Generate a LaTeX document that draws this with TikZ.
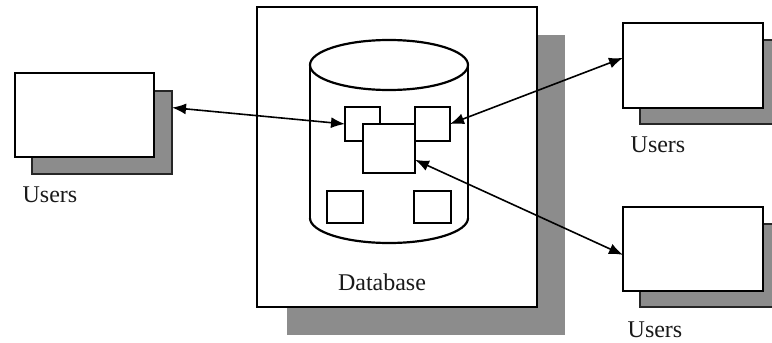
\documentclass[tikz,border=0pt]{standalone}
\usepackage{fontspec}
\setmainfont{Liberation Serif}
\usetikzlibrary{arrows.meta,calc}
\definecolor{shade}{HTML}{8C8C8C}
\begin{document}
\begin{tikzpicture}[x=1pt,y=-1pt,
  box/.style={draw=black,line width=2.4pt,fill=white,anchor=north west,inner sep=0pt,outer sep=0pt},
  shadowbox/.style={draw=black!85,line width=2pt,fill=shade,anchor=north west,inner sep=0pt,outer sep=0pt},
  item/.style={draw=black,line width=2.2pt,fill=white,anchor=north west,inner sep=0pt,outer sep=0pt},
  link/.style={line width=1.6pt,{Latex[length=14pt,width=11pt]}-{Latex[length=14pt,width=11pt]}},
  lbl/.style={font=\fontsize{24}{27}\selectfont,text=black!90}]
\useasboundingbox (0,0) rectangle (772,343);

% left group of users
\node[shadowbox,minimum width=140pt,minimum height=83pt] (lsh) at (32,91) {};
\node[box,minimum width=139pt,minimum height=84pt] (lu) at (15,73) {};
\node[lbl] (lul) at (50,195) {Users};

% right upper group of users
\node[shadowbox,minimum width=150pt,minimum height=84pt] (rtsh) at (640,40) {};
\node[box,minimum width=140pt,minimum height=85pt] (rt) at (623,23) {};
\node[lbl] (rtl) at (658,145) {Users};

% right lower group of users
\node[shadowbox,minimum width=150pt,minimum height=83pt] (rbsh) at (640,224) {};
\node[box,minimum width=140pt,minimum height=84pt] (rb) at (623,207) {};
\node[lbl] (rbl) at (655,330) {Users};

% database panel with its shadow
\node[shadowbox,draw=none,minimum width=278pt,minimum height=300pt] (dbsh) at (287,35) {};
\node[box,minimum width=280pt,minimum height=300pt] (db) at (257,7) {};
\node[lbl] (dbl) at (382,282) {Database};

% cylinder
\draw[line width=2.2pt] (310,65) -- (310,218);
\draw[line width=2.2pt] (468,65) -- (468,218);
\draw[line width=2.2pt] (389,65) ellipse [x radius=79,y radius=25];
\begin{scope}
  \clip (300,218) rectangle (480,250);
  \draw[line width=2.2pt] (389,218) ellipse [x radius=79,y radius=25];
\end{scope}

% records stored in the database
\node[item,minimum width=35pt,minimum height=34pt] (ra) at (345,107) {};
\node[item,minimum width=35pt,minimum height=34pt] (rbx) at (415,107) {};
\node[item,minimum width=52pt,minimum height=49pt] (rc) at (363,124) {};
\node[item,minimum width=36pt,minimum height=32pt] (rd) at (327,191) {};
\node[item,minimum width=37pt,minimum height=32pt] (re) at (414,191) {};

% access links
\draw[link] ($(lsh.north east)!0.2!(lsh.south east)$) -- (ra.west);
\draw[link] ($(rt.north west)!0.41!(rt.south west)$) -- (rbx.east);
\draw[link] ($(rb.north west)!0.57!(rb.south west)$) -- ($(rc.north east)!0.73!(rc.south east)$);
\end{tikzpicture}
\end{document}
